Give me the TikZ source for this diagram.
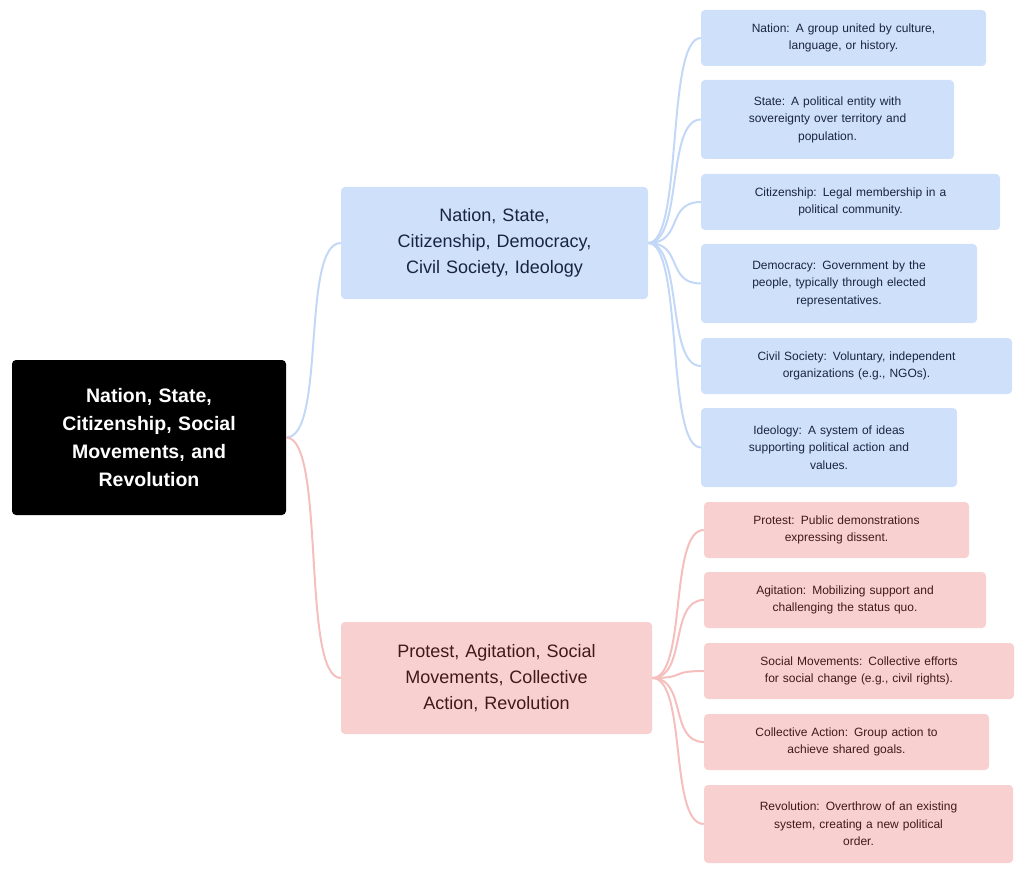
\documentclass[tikz,border=0pt]{standalone}
\usepackage{fontspec}
\setmainfont{Liberation Sans}
\definecolor{bfill}{HTML}{CFE0FB}
\definecolor{bline}{HTML}{C3D7F7}
\definecolor{pfill}{HTML}{F8D0CF}
\definecolor{pline}{HTML}{F5BFBD}
\definecolor{btext}{HTML}{1A2440}
\definecolor{ptext}{HTML}{401A1A}
\begin{document}
\begin{tikzpicture}[x=1pt,y=-1pt,
 box/.style={rounded corners=4pt,align=center,inner sep=0pt},
 leafb/.style={box,fill=bfill,font=\fontsize{12}{17.5}\selectfont,text=btext},
 leafp/.style={box,fill=pfill,font=\fontsize{12}{17.5}\selectfont,text=ptext},
 conb/.style={draw=bline,line width=2pt},
 conp/.style={draw=pline,line width=2pt}]
\useasboundingbox (0,0) rectangle (1024,874);
\newcommand\bx[7]{\node[#1,minimum width=#4-#3,minimum height=#6-#5,text width=#4-#3-8] (#2) at ({(#3+#4)/2},{(#5+#6)/2}) {#7};}
\bx{box,fill=black,text=white,font=\bfseries\fontsize{19.5}{28}\selectfont}{root}{12}{286}{360}{515}{Nation, State,\\Citizenship, Social\\Movements, and\\Revolution}
\bx{box,fill=bfill,text=btext,font=\fontsize{18}{26}\selectfont}{b1}{341}{648}{187}{299}{Nation, State,\\Citizenship, Democracy,\\Civil Society, Ideology}
\bx{box,fill=pfill,text=ptext,font=\fontsize{18}{26}\selectfont}{b2}{341}{652}{622}{734}{Protest, Agitation, Social\\Movements, Collective\\Action, Revolution}
\bx{leafb}{l1}{701}{986}{10}{66}{Nation: A group united by culture,\\language, or history.}
\bx{leafb}{l2}{701}{954}{80}{159}{State: A political entity with\\sovereignty over territory and\\population.}
\bx{leafb}{l3}{701}{1000}{174}{230}{Citizenship: Legal membership in a\\political community.}
\bx{leafb}{l4}{701}{977}{244}{323}{Democracy: Government by the\\people, typically through elected\\representatives.}
\bx{leafb}{l5}{701}{1012}{338}{394}{Civil Society: Voluntary, independent\\organizations (e.g., NGOs).}
\bx{leafb}{l6}{701}{957}{408}{487}{Ideology: A system of ideas\\supporting political action and\\values.}
\bx{leafp}{m1}{704}{969}{502}{558}{Protest: Public demonstrations\\expressing dissent.}
\bx{leafp}{m2}{704}{986}{572}{628}{Agitation: Mobilizing support and\\challenging the status quo.}
\bx{leafp}{m3}{704}{1014}{643}{699}{Social Movements: Collective efforts\\for social change (e.g., civil rights).}
\bx{leafp}{m4}{704}{989}{714}{770}{Collective Action: Group action to\\achieve shared goals.}
\bx{leafp}{m5}{704}{1013}{785}{863}{Revolution: Overthrow of an existing\\system, creating a new political\\order.}
\begin{scope}[on background layer/.style={}]
\draw[conb] (root.east) .. controls +(40,0) and +(-40,0) .. (b1.west);
\draw[conp] (root.east) .. controls +(40,0) and +(-40,0) .. (b2.west);
\foreach \n in {l1,l2,l3,l4,l5,l6}
  \draw[conb] (b1.east) .. controls +(35,0) and +(-35,0) .. (\n.west);
\foreach \n in {m1,m2,m3,m4,m5}
  \draw[conp] (b2.east) .. controls +(35,0) and +(-35,0) .. (\n.west);
\end{scope}
\end{tikzpicture}
\end{document}
